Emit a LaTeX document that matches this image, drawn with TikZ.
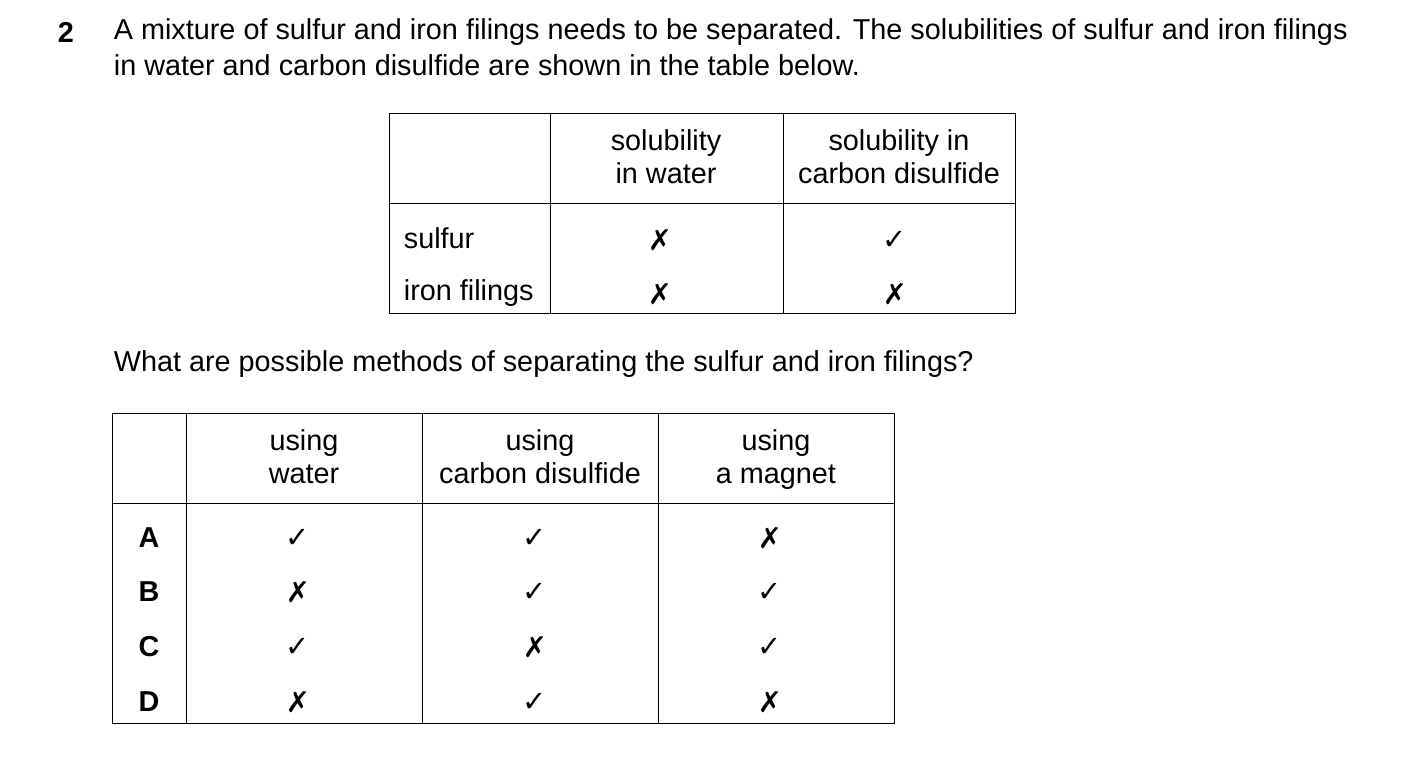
\documentclass[tikz,border=0pt]{standalone}
\usepackage{fontspec}
\setmainfont{Liberation Sans}
\newfontfamily\symfont{DejaVu Sans}
\newcommand{\yes}{{\symfont ✓}}
\newcommand{\no}{{\symfont\bfseries ✗}}
\tikzset{txt/.style={inner sep=0.75pt, font=\fontsize{14.4}{16.5}\selectfont},
  hd/.style={txt, align=center, text depth=0.25em}}
\begin{document}
\begin{tikzpicture}[x=0.5pt,y=0.5pt,yscale=-1,xscale=1]
\useasboundingbox (0,0) rectangle (1403,773);

% Text Node
\node[txt, font=\fontsize{14.4}{16.5}\selectfont\bfseries] (num) at (66,32) {2};
\node[txt, anchor=west] (intro1) at (112,32) {A mixture of sulfur and iron filings needs to be separated. The solubilities of sulfur and iron filings};
\node[txt, anchor=west] (intro2) at (112,65) {in water and carbon disulfide are shown in the table below.};

%Shape: first table
\draw (389,113) rectangle (1015,313);
\draw (550,113) -- (550,313);
\draw (783,113) -- (783,313);
\draw (389,203) -- (1015,203);
\node[hd] (hwat) at (666,159) {solubility\\in water};
\node[hd] (hcs) at (899,159) {solubility in\\carbon disulfide};
\node[txt, anchor=west] (sulf) at (402,238) {sulfur};
\node[txt, anchor=west] (iron) at (402,293) {iron filings};
\node[txt] at (660,240) {\no};
\node[txt] at (895,240) {\yes};
\node[txt] at (660,294) {\no};
\node[txt] at (895,294) {\no};

% Text Node
\node[txt, anchor=west] (quest) at (112,364) {What are possible methods of separating the sulfur and iron filings?};

%Shape: second table
\draw (112,413) rectangle (894,723);
\foreach \x in {186,422,658} \draw (\x,413) -- (\x,723);
\draw (112,503) -- (894,503);
\node[hd] (mwat) at (304,459) {using\\water};
\node[hd] (mcs) at (540,459) {using\\carbon disulfide};
\node[hd] (mmag) at (776,459) {using\\a magnet};
\foreach \l/\y/\a/\b/\c in {A/538/\yes/\yes/\no, B/592/\no/\yes/\yes, C/647/\yes/\no/\yes, D/702/\no/\yes/\no}{
  \node[txt, font=\fontsize{14.4}{16.5}\selectfont\bfseries] at (149,\y) {\l};
  \node[txt] at (298,\y) {\a};
  \node[txt] at (535,\y) {\b};
  \node[txt] at (770,\y) {\c};
}
\end{tikzpicture}
\end{document}
